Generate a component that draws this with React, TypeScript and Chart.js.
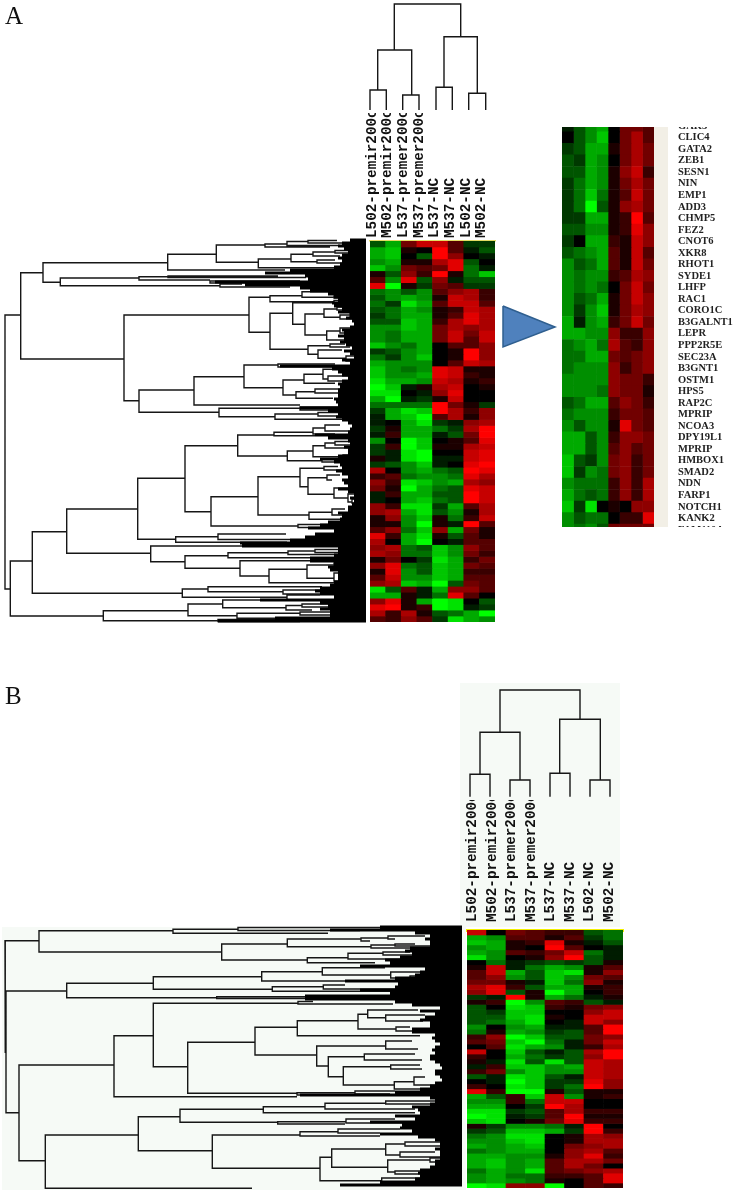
import React, { useEffect, useRef } from "react";
import Chart from "chart.js/auto";

const sampleLabels = ["L502-premir200c","M502-premir200c","L537-premer200c","M537-premer200c","L537-NC","M537-NC","L502-NC","M502-NC"];

// expression scores: negative = green, positive = red, scale -9..9
const heatA = [
[-3,-6,4,7,7,3,-2,-2],[-6,-7,1,0,9,3,-1,-3],[-6,-7,0,-3,9,5,0,-1],[-5,-6,1,1,6,8,-3,0],[-7,-5,4,3,4,8,-4,-1],[1,-3,5,2,9,1,-4,-7],[3,-5,8,-3,5,-1,-3,-3],[8,-9,1,-2,4,3,-2,-2],
[-4,-5,-3,-5,3,5,6,2],[-3,-5,-6,-5,1,7,6,2],[-4,-2,-8,-6,3,7,7,3],[-3,-4,-6,-5,1,2,7,6],[-2,-4,-6,-6,1,3,8,6],[-3,-3,-7,-6,2,6,8,6],[-5,-5,-7,-6,4,6,5,6],[-5,-4,-6,-6,4,7,4,7],
[-5,-4,-6,-6,4,7,3,7],[-7,-5,-4,-6,0,3,3,5],[-2,-3,-5,-6,0,1,9,5],[-4,-2,-5,-7,0,1,9,5],[-6,-5,-5,-5,0,3,7,6],[-7,-5,-4,-5,8,7,1,1],[-7,-5,-5,-6,8,7,2,1],[-8,-6,-6,-5,7,6,1,2],
[-9,-7,-1,1,6,7,0,1],[-8,-8,0,-1,5,8,0,0],[-6,-9,-1,-2,1,7,0,0],[-4,-4,-4,-4,9,4,1,-2],[-2,-6,-8,-7,9,6,2,5],[-1,-6,-7,-9,3,6,1,5],[-1,0,-6,-8,-2,-1,5,6],[-2,1,-6,-6,-4,-2,6,9],
[-1,2,-6,-6,-1,-3,4,9],[-5,0,-9,-7,0,1,3,8],[-2,2,-9,-7,1,1,6,7],[-2,-1,-8,-9,0,0,7,8],[1,-1,-8,-9,-1,-1,7,8],[-2,-3,-5,-7,-1,0,8,9],[6,0,-5,-6,-4,-3,9,8],[2,3,-4,-5,-5,-4,8,6],
[5,2,-8,-7,-5,-6,6,5],[4,1,-9,-6,-4,-3,8,7],[-1,2,-6,-6,-3,-3,9,7],[-1,0,-6,-7,-4,-3,9,7],[5,2,-8,-8,-2,-6,3,6],[5,6,-6,-8,-3,-5,1,6],[1,5,-5,-7,1,-4,2,7],[1,1,-5,-9,1,-1,9,3],
[3,5,-4,-7,5,-6,4,1],[8,2,-6,-8,1,-3,3,1],[6,0,-6,-9,0,-1,3,3],[5,6,-4,-3,-7,-5,5,3],[6,5,-4,-4,-7,-5,4,2],[1,4,0,-2,-8,-6,2,4],[5,8,-4,-3,-7,-6,4,3],[1,8,-5,-3,-7,-6,2,2],
[3,7,-5,-5,-7,-6,3,3],[5,6,-7,-6,-9,-3,4,3],[-8,-3,3,-1,-6,5,5,3],[-6,-6,1,-1,-4,8,3,0],[5,8,1,-6,-9,-8,0,-3],[8,9,1,2,-9,-8,-1,-2],[6,2,6,1,-3,-4,-6,-9],[3,2,5,3,-2,-8,-6,-5],
];

const geneLabels = ["GAK3","CLIC4","GATA2","ZEB1","SESN1","NIN","EMP1","ADD3","CHMP5","FEZ2","CNOT6","XKR8","RHOT1","SYDE1","LHFP","RAC1","CORO1C","B3GALNT1","LEPR","PPP2R5E","SEC23A","B3GNT1","OSTM1","HPS5","RAP2C","MPRIP","NCOA3","DPY19L1","MPRIP","HMBOX1","SMAD2","NDN","FARP1","NOTCH1","KANK2","FAM110A"];
const heatInset = [
[-1,-3,-5,-6,0,4,4,3],[0,-3,-5,-7,0,4,6,3],[-2,-3,-6,-6,1,4,6,4],[-3,-2,-6,-5,0,4,6,4],[-3,-3,-6,-5,1,5,7,2],[-2,-4,-6,-5,1,4,6,4],[-2,-4,-7,-4,1,3,7,4],[-2,-4,-9,-3,1,5,6,4],[-2,-2,-6,-6,1,2,9,3],
[-3,-3,-5,-5,1,2,8,5],[-2,0,-6,-6,2,1,7,5],[-3,-4,-5,-6,3,1,7,3],[-5,-3,-4,-6,3,1,7,4],[-5,-4,-5,-5,2,3,6,5],[-5,-4,-5,-4,0,4,7,4],[-5,-3,-4,-6,1,4,7,5],[-5,-2,-5,-7,1,4,6,5],[-6,-1,-5,-6,2,4,7,4],
[-6,-6,-5,-5,5,2,2,5],[-4,-5,-6,-4,6,3,2,5],[-4,-4,-6,-6,4,3,4,5],[-4,-5,-5,-5,5,2,4,5],[-5,-5,-5,-5,5,4,4,2],[-5,-5,-5,-4,5,4,4,1],[-3,-4,-6,-6,3,5,4,2],[-4,-5,-5,-5,2,4,4,3],[-5,-3,-5,-5,1,8,4,3],
[-6,-6,-3,-5,2,5,5,4],[-6,-6,-3,-5,3,5,3,4],[-7,-3,-2,-5,4,5,2,4],[-7,-2,-5,-4,4,5,2,4],[-5,-4,-4,-4,2,5,2,6],[-6,-4,-3,-4,2,5,2,6],[-7,-2,-8,0,1,0,5,5],[-5,-3,-4,-4,0,2,2,8],[-5,-4,-5,-3,4,4,4,4],
];

const heatB = [
[7,0,4,3,2,2,-3,-4],[-6,-5,3,3,1,3,-2,-4],[-7,-6,1,2,8,1,-1,-3],[-5,-6,1,0,9,3,0,-1],[-6,-5,3,2,4,7,-4,-1],[-8,-5,0,1,5,9,-3,-1],[0,-4,-1,-2,-3,-2,-3,1],[1,7,-1,-4,-6,-5,1,3],[3,7,-6,-3,-7,-8,1,5],
[3,5,-5,-3,-7,-5,4,3],[4,4,1,-1,-7,-4,5,1],[6,8,2,-3,-6,-6,1,2],[5,8,-3,1,-9,-6,0,2],[-2,-1,9,1,-6,-4,-1,1],[1,2,-9,-5,3,2,-3,-1],[-3,0,-8,-7,2,1,4,5],[-3,-2,-7,-7,0,0,5,7],[-3,-3,-7,-8,1,0,7,7],
[-3,-4,-6,-8,0,-1,7,5],[-5,0,-5,-6,-1,-1,3,9],[-4,1,-6,-5,-2,-3,3,9],[2,5,-9,-7,-3,-3,4,5],[3,4,-7,-9,-4,-1,4,7],[0,3,-8,-6,-5,-1,2,6],[7,0,-7,-3,-1,-3,6,9],[2,0,-6,-4,-2,-3,5,9],[1,-1,-8,-3,-8,-3,7,6],
[-1,2,-7,-7,-5,-6,7,6],[2,4,-5,-7,-5,-5,7,6],[-3,-1,-8,-7,-3,-1,7,6],[0,-1,-9,-7,-2,-2,8,5],[2,0,-8,-7,-2,-4,9,5],[8,2,-9,-9,1,-3,1,1],[-6,-3,2,-7,7,-5,1,2],[-5,-5,2,-4,7,7,0,0],[-6,-6,0,-2,9,6,0,0],
[-8,-8,-2,-3,3,6,2,2],[-9,-8,-1,-2,3,9,1,1],[-7,-8,0,1,4,8,2,2],[1,-2,-5,-5,-4,-1,9,0],[-2,-3,-7,-7,-6,-2,9,2],[-4,-5,-8,-8,0,1,6,5],[-5,-5,-7,-8,0,1,6,6],[-6,-5,-6,-7,0,4,5,6],[-4,-5,-6,-6,0,5,6,3],
[-6,-6,-5,-5,1,5,8,2],[-6,-7,-5,-6,3,6,6,4],[-6,-7,-5,-6,3,6,4,0],[-4,-6,-5,-8,3,4,5,6],[-5,-6,-4,-4,2,2,3,8],[-5,-6,-5,-4,1,0,3,8],[-9,-8,5,5,-9,0,3,2],
];

// gene dendrogram A: [merge, y of upper child, upper child's merge, y of lower child, lower child's merge]
const geneTreeA = [
[5,315,20.7,589,10.3],[20.7,272.7,43,359,124],[43,262.7,167.7,282.3,60.3],[167.7,254.3,216.3,270,285],[216.3,245,265,262.3,258.3],[265,244,287,247,330],[287,241.5,308,245.5,340],[308,240.5,337,243,350],
[258.3,259,291,267.7,340],[291,254.3,313,261.7,317],[313,252,335,256,340],[335,250.5,352,253,355],[317,260,335,263,345],[60.3,278,139,285.7,220],[139,276.7,168,280,210],[168,276,278,277.5,306],[210,281,300,283,320],[220,284,242,287,290],
[124,315,249,400.7,139],[249,297.3,270,332.3,270],[270,295.7,302,301.7,334],[302,291.7,332,297.3,334],[332,290.5,352,293,358],[334,296,350,298,355],[334,300.5,340,303,345],[270,313.3,292.7,349.3,308],[292.7,302.7,340,324.3,305],[305,314,324,335,326.7],
[324,309,337,317.3,340],[337,307,355,310,358],[340,315,350,319,352],[350,313.5,360,316.5,358],[326.7,331,340,340,348],[340,328,358,333,360],[308,345.7,330,354.3,318],[330,344,345,347,350],[318,350,342,358.3,346],[346,356,358,361,360],
[139,390,194,412.3,219],[194,376.7,244,405,300],[244,365,278,387.7,283],[278,364,335,367,345],[283,380,304,395,296],[304,374.3,323,383.3,335],[323,369.3,335,379,328],[328,376,350,381,352],[352,374,360,377,358],[296,391.7,315,398.3,333],[315,389,340,393,345],
[219,408.3,300,416.7,275],[300,407,340,410,338],[275,414,318,419.3,343],[318,412.5,340,416,345],
[10.3,561,32.3,616,103.3],[32.3,531.7,66.7,593.3,182.3],[66.7,509,137.7,553.3,150.7],[137.7,478.3,185,539.3,175.7],[185,445.7,237.7,511.7,211],[237.7,435,274,456,287.3],[274,432.3,313,435.7,315],[313,428,325,434,335],[325,425,340,431,352],
[287.3,451,313,460.7,322],[313,445.7,325,456.7,343],[325,443,335,448,350],[335,441.5,355,445,358],[343,455,358,458,355],[322,459,345,462,343],[211,496.7,258,526,298],[258,476.7,300,515,309],[300,468.3,324,486.7,308],[324,466.5,338,470,345],[308,477.7,327,494.3,334],
[327,475,340,480,332],[334,488,350,498,348],[350,486,358,490,360],[348,494,356,502,352],[356,491.5,362,496,360],[352,499,362,503,360],[309,512.3,332,519.3,348],[332,509,345,515,350],[298,524.5,330,527.5,340],[330,523,345,526,342],
[175.7,536.7,218,542.3,287],[218,534,286,539.5,290],[150.7,546,242,561.7,185],[185,555.7,228,568.3,240],[228,552.7,288,557.7,310],[288,551,315,554.5,340],[315,549.5,345,552.5,352],[240,560.7,328,576,269],[269,569.3,307,582.7,340],[307,565,334,578.3,334],[334,563,345,567,342],[334,573,350,581,352],[350,571,358,575,362],
[182.3,589,208,597.3,287],[208,586.7,322,591.7,283],[283,590,320,594,333],[287,595,320,600,317],[103.3,610.7,188,620.7,218],[188,604,222.7,615.7,237],[222.7,600,260,607.7,286],[286,605.5,302,610,312],[302,604,330,607,342],[237,613.3,300,618.3,275],[300,612,332,615,333],[218,619.5,275,621.5,300],
];

// left edge of the dense black leaves, one value per 3 units from 240
const leafEdgeA = [
350,342,338,344,348,342,338,342,340,334,290,265,305,308,215,245,300,310,328,334,338,332,334,342,338,350,346,352,354,350,342,344,338,344,340,346,352,344,350,354,342,350,280,332,338,342,348,342,338,340,338,338,338,334,336,338,300,328,338,336,342,
348,352,350,348,315,328,348,350,344,348,348,338,320,334,340,342,336,342,348,342,344,348,338,348,354,350,354,352,348,348,338,342,340,328,320,308,334,315,305,290,240,242,338,338,334,310,310,334,328,330,338,338,338,334,330,320,315,320,334,260,320,328,320,330,330,275,218,
];

const geneTreeB = [
[5,940.7,39,1053,5.5],[6,991,66.7,1112.7,19],[39,930.7,173,952,221.7],[173,929.3,238,933.3,328],[238,927.5,380,930.5,360],[221.7,944,287.3,960,307.3],[287.3,939,361,946.7,371],[361,938,388,941,370],[388,936,425,939,395],[371,945,395,948,430],[395,944,415,946,440],
[307.3,957.7,348,962.7,375],[348,953.3,383,959,408],[383,952,410,955,422],[66.7,983.3,153.3,997.7,216.7],[153.3,976.7,261.7,989.3,272.3],[261.7,971.7,322,981,392],[322.3,967.7,385,975,390.7],[390.7,972,437,978,410],[410,976,425,980,416],[272.3,986.7,323.3,991.3,392],[323.3,985,345,989,399],
[216.7,996.7,305,998.5,305],[298,1001.5,313,1004,393],[19,1065,114,1160.7,45.3],[114,1035.7,153.3,1096.7,297],[153.3,1003.3,298,1066.7,187.7],[187.7,1042.3,255,1093.3,296.7],[255,1027.3,297.3,1055,316.7],[297.3,1020.7,358,1035.7,420],[358,1014.3,367.7,1029,396],[367.7,1010,418,1017.7,385.7],[385.7,1015,425,1021,423],[396,1027,410,1031,412],
[316.7,1046,385.7,1066,328.3],[385.7,1041,412,1049,418],[328.3,1056.7,364.3,1076.7,343.3],[364.3,1054,415,1060,422],[343.3,1066.7,390.7,1085,394.3],[390.7,1065,420,1069,422],[394.3,1081.7,414,1089,435],[414,1077,425,1085,445],[297,1092.7,355,1095,395],[355,1091,395,1094,390],
[45.3,1135,138.3,1188.3,252],[138.3,1116.7,180,1150.7,212.3],[180,1109.3,263.3,1122.3,277.7],[263.3,1106.7,325,1112.7,415],[325,1103.3,385.7,1109,415],[385.7,1101,440,1104,440],[277.7,1121.7,346,1124,345],[346,1119,395,1123,430],[212.3,1135,300,1168.3,320],[300,1131.7,338,1136,380],[338,1129,400,1133,380],
[320,1157.3,331.7,1180.7,381.7],[331.7,1149,385.7,1167.3,387.7],[385.7,1144,405,1155,400],[405,1142,440,1146,445],[400,1152,435,1157,450],[387.7,1160,430,1172,395],[430,1158,445,1162,450],[395,1171,430,1174,425],[381.7,1178,425,1182,420],
];

// left edge of the dense black leaves, one value per 3 units from 927
const leafEdgeB = [
380,330,415,430,425,430,430,410,405,412,400,385,390,360,425,420,415,395,345,398,395,360,390,305,305,395,412,440,420,435,425,420,430,430,412,412,435,432,435,440,435,432,435,430,430,435,440,442,435,435,440,442,435,430,420,395,300,430,435,430,412,418,420,395,415,370,402,400,412,380,418,435,440,440,435,440,440,440,435,435,430,420,418,420,415,380,340,
];

// sample dendrograms: [merge, x of left child, left child's merge, x of right child, right child's merge]
const sampleTreeA = [
[4,394.3,50,460.7,36.7],[50,377.7,90,411.7,95],[90,370,110,386.3,110],[95,402.7,110,419,110],[36.7,444,87.3,477.3,93.3],[87.3,436,110,452.3,110],[93.3,468.7,110,485.7,110],
];
const sampleTreeB = [
[690,500,732.3,580,719.3],[732.3,480,774.3,520,780],[774.3,470,796.7,490,796.7],[780,510,796.7,530,796.7],[719.3,559.7,773.3,600.3,780],[773.3,550,796.7,570,796.7],[780,590,796.7,610,796.7],
];

const arrowOutline = [[503,306],[555,327],[503,347],[503,306]];

const cellColor = (v: number) => {
  const m = Math.min(255, Math.round(Math.abs(v) * 28.3));
  return v >= 0 ? `rgb(${m},0,0)` : `rgb(0,${m},0)`;
};
const GAP = { x: NaN, y: NaN };

const horizontalTree = (tree: number[][]) =>
  tree.flatMap(([h, y1, c1, y2, c2]) => [{ x: c1, y: y1 }, { x: h, y: y1 }, { x: h, y: y2 }, { x: c2, y: y2 }, GAP]);
const verticalTree = (tree: number[][]) =>
  tree.flatMap(([h, x1, c1, x2, c2]) => [{ x: x1, y: c1 }, { x: x1, y: h }, { x: x2, y: h }, { x: x2, y: c2 }, GAP]);
const leafLines = (edge: number[], y0: number, end: number) =>
  edge.flatMap((x, i) => [{ x, y: y0 + i * 3 }, { x: end, y: y0 + i * 3 }, GAP]);

const lineSet = (data: any[], width: number, color = "#161616") => ({
  type: "scatter" as const, data, showLine: true, borderColor: color, borderWidth: width, pointRadius: 0, spanGaps: false, fill: false,
});

const sampleHeat = (canvas: HTMLCanvasElement, rows: number[][], o: any) =>
  new Chart(canvas, {
    type: "bar",
    data: {
      labels: sampleLabels,
      datasets: rows.map((r) => ({ data: r.map(() => 1), backgroundColor: r.map(cellColor), borderWidth: 0, barPercentage: 1, categoryPercentage: 1 })),
    },
    options: {
      animation: false, responsive: false,
      layout: { padding: { left: o.left, right: o.right, top: 0, bottom: 0 } },
      plugins: { legend: { display: false }, tooltip: { enabled: false } },
      scales: {
        x: {
          stacked: true, position: "top",
          grid: { display: false, drawTicks: false },
          border: { display: true, color: o.rule, width: o.ruleWidth },
          afterFit: (s: any) => { s.height = o.axisHeight; },
          ticks: { autoSkip: false, minRotation: 90, maxRotation: 90, padding: o.pad, labelOffset: o.offset, color: "#111", font: { family: "Liberation Mono", size: 14.3, weight: "bold" } },
        },
        y: { stacked: true, reverse: true, min: 0, max: rows.length, display: false },
      },
    } as any,
  });

export default function App() {
  const main = useRef<HTMLCanvasElement>(null);
  const a = useRef<HTMLCanvasElement>(null);
  const b = useRef<HTMLCanvasElement>(null);
  const inset = useRef<HTMLCanvasElement>(null);

  useEffect(() => {
    const charts: Chart[] = [];
    charts.push(new Chart(main.current!, {
      type: "scatter",
      data: {
        datasets: [
          lineSet(leafLines(leafEdgeA, 240, 366), 3, "#000"),
          lineSet(leafLines(leafEdgeB, 927, 462), 3, "#000"),
          lineSet(horizontalTree(geneTreeA), 1.4),
          lineSet(horizontalTree(geneTreeB), 1.4),
          lineSet(verticalTree(sampleTreeA), 1.4),
          lineSet(verticalTree(sampleTreeB), 1.4),
          { ...lineSet(arrowOutline.map(([x, y]) => ({ x, y })), 1.5, "#2f5f8f"), fill: "shape", backgroundColor: "#4f81bd" },
        ],
      },
      options: {
        animation: false, responsive: false,
        plugins: { legend: { display: false }, tooltip: { enabled: false } },
        scales: { x: { display: false, min: 0, max: 734 }, y: { display: false, reverse: true, min: 0, max: 1194 } },
      } as any,
    }));
    charts.push(sampleHeat(a.current!, heatA, { left: 20, right: 15, rule: "#e4dc62", ruleWidth: 1.5, axisHeight: 128, pad: 3, offset: 11.5 }));
    charts.push(sampleHeat(b.current!, heatB, { left: 20, right: 14, rule: "#f2f000", ruleWidth: 3, axisHeight: 130, pad: 8, offset: 13 }));
    charts.push(new Chart(inset.current!, {
      type: "bar",
      data: {
        labels: geneLabels,
        datasets: sampleLabels.map((_, c) => ({
          data: heatInset.map(() => 1), backgroundColor: heatInset.map((r) => cellColor(r[c])), borderWidth: 0, barPercentage: 1, categoryPercentage: 1,
        })),
      },
      options: {
        indexAxis: "y", animation: false, responsive: false,
        plugins: { legend: { display: false }, tooltip: { enabled: false } },
        layout: { padding: 0 },
        scales: {
          x: { stacked: true, display: false, min: 0, max: 8 },
          y: {
            stacked: true, position: "right",
            grid: { display: false, drawTicks: true, tickLength: 24, tickColor: "transparent" }, border: { display: false },
            afterFit: (s: any) => { s.width = 80; },
            ticks: { autoSkip: false, padding: 0, color: "#222", font: { family: "Liberation Serif", size: 10.5, weight: "bold" } },
          },
        },
      } as any,
    }));
    return () => charts.forEach((c) => c.destroy());
  }, []);

  const abs = (left: number, top: number, width: number, height: number, extra: any = {}) => ({ position: "absolute" as const, left, top, width, height, ...extra });
  const letter = { fontFamily: "Liberation Serif", fontSize: 25, lineHeight: "25px", color: "#111" };

  return (
    <div style={{ position: "fixed", left: 0, top: 0, width: 734, height: 1194, overflow: "hidden", background: "#fff" }}>
      <div style={abs(460, 683, 160, 244, { background: "#f6faf6" })} />
      <div style={abs(2, 927, 464, 263, { background: "#f6faf6" })} />
      <div style={abs(654, 127, 14, 400, { background: "#f2efe6" })} />
      <canvas ref={main} width={734} height={1194} style={abs(0, 0, 734, 1194, { display: "block" })} />
      <canvas ref={a} width={160} height={509} style={abs(350, 113, 160, 509, { display: "block" })} />
      <canvas ref={b} width={190} height={388} style={abs(447, 800, 190, 388, { display: "block" })} />
      <div style={abs(562, 127, 172, 400, { overflow: "hidden" })}>
        <canvas ref={inset} width={172} height={428} style={{ position: "absolute", left: 0, top: -13, width: 172, height: 428, display: "block" }} />
      </div>
      <div style={abs(5, 3, 24, 26, letter)}>A</div>
      <div style={abs(5, 683, 24, 26, letter)}>B</div>
    </div>
  );
}
